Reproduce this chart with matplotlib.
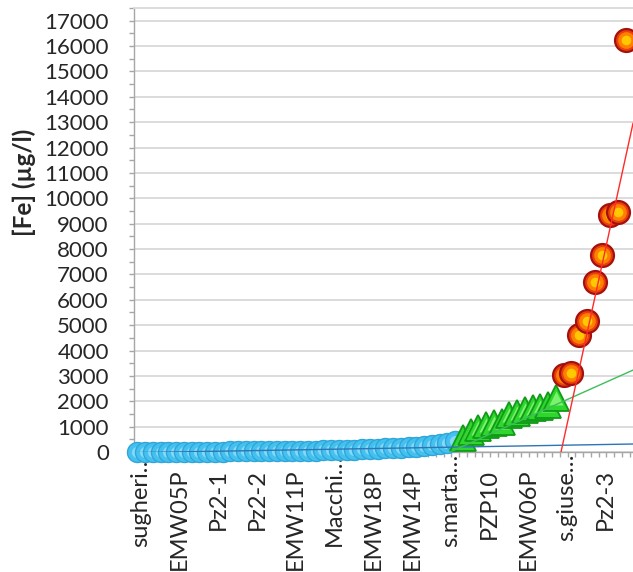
import matplotlib
matplotlib.use("Agg")
import matplotlib.pyplot as plt
import numpy as np
from matplotlib.ticker import MultipleLocator, FixedLocator

plt.rcParams['font.family'] = ['Lato', 'DejaVu Sans']

# Category-axis labels (one every fifth well)
label_pos = [0, 5, 10, 15, 20, 25, 30, 35, 40, 45, 50, 55, 60]
label_text = ["sugheri…", "EMW05P", "Pz2-1", "Pz2-2", "EMW11P", "Macchi…",
              "EMW18P", "EMW14P", "s.marta…", "PZP10", "EMW06P", "s.giuse…", "Pz2-3"]

# Fe concentrations (µg/l), sorted ascending, split into three groups
fe_low = [2, 4, 5, 6, 8, 9, 10, 12, 13, 15,
          16, 18, 20, 22, 24, 26, 29, 32, 35, 38,
          42, 47, 52, 58, 64, 71, 79, 88, 98, 110,
          122, 135, 148, 162, 177, 193, 212, 235, 262, 300,
          360, 450]
fe_mid = [550, 790, 940, 1060, 1140, 1180, 1460, 1540, 1650, 1730, 1770, 1850, 2120]
fe_high = [3050, 3100, 4600, 5150, 6700, 7750, 9350, 9450, 16250]

# Linear trend lines (value = slope * category + intercept)
trend_slope = [5.31, 136.7, 1394.0]
trend_intercept = [-24.6, -5514.0, -76196.0]

n_low, n_mid, n_high = len(fe_low), len(fe_mid), len(fe_high)
x_low = np.arange(n_low)
x_mid = np.arange(n_low, n_low + n_mid)
x_high = np.arange(n_low + n_mid, n_low + n_mid + n_high)
n_cat = n_low + n_mid + n_high

W, H = 633, 572
fig = plt.figure(figsize=(W / 100, H / 100), dpi=100)
ax = fig.add_axes([133.5 / W, (H - 452) / H, (W - 133.5) / W, 444 / H])

ax.set_xlim(-0.5, 63.95)
ax.set_ylim(0, 17500)

grid_c = '#D9D9D9'
axis_c = '#A6A6A6'
text_c = '#262626'

# horizontal gridlines
ax.yaxis.set_major_locator(MultipleLocator(1000))
ax.yaxis.set_minor_locator(MultipleLocator(500))
ax.set_yticks(np.arange(0, 17001, 1000))
ax.grid(axis='y', which='major', color=grid_c, linewidth=1.3, zorder=0)
ax.set_axisbelow(True)

ax.spines['right'].set_visible(False)
ax.spines['top'].set_color(grid_c)
ax.spines['top'].set_linewidth(1.3)
ax.spines['left'].set_color(axis_c)
ax.spines['bottom'].set_color(axis_c)
ax.spines['left'].set_linewidth(1.0)
ax.spines['bottom'].set_linewidth(1.0)

ax.tick_params(axis='y', which='major', direction='out', length=3.8, width=1.0,
               color=axis_c, labelsize=16, labelcolor=text_c, pad=14)
ax.tick_params(axis='y', which='minor', direction='out', length=3.8, width=1.0,
               color=axis_c)
ax.set_yticklabels([str(v) for v in range(0, 17001, 1000)])

# category boundaries as x ticks; labels drawn separately
ax.xaxis.set_major_locator(FixedLocator(np.arange(n_cat + 1) - 0.5))
ax.xaxis.set_minor_locator(FixedLocator([]))
ax.tick_params(axis='x', which='major', direction='out', length=3.8, width=1.0,
               color=axis_c, labelbottom=False)

for pos, txt in zip(label_pos, label_text):
    drop = 1 if txt.endswith('…') else 12
    ax.annotate(txt, xy=(pos, 0), xycoords=('data', 'axes fraction'),
                xytext=(2.5, -drop), textcoords='offset points',
                rotation=90, ha='center', va='top', fontsize=17, color=text_c,
                annotation_clip=False)

fig.text(24 / W, 1 - 182 / H, '[Fe] (µg/l)', rotation=90, ha='center', va='center',
         fontsize=17.5, fontweight='bold', color=text_c)

# markers, layered per point for a shaded look
for x, y in zip(x_low, fe_low):
    ax.plot([x], [y], 'o', ms=14.4, mfc='#45C1F0', mec='#2FA6DA', mew=1.0,
            clip_on=False, zorder=3)
    ax.plot([x], [y], 'o', ms=8, mfc='#86D9F7', mec='none', clip_on=False, zorder=3)

for x, y in zip(x_mid, fe_mid):
    ax.plot([x], [y], '^', ms=19, mfc='#2ED62E', mec='#109A18', mew=1.3,
            clip_on=False, zorder=4)
    ax.plot([x], [y], '^', ms=10, mfc='#7CF26E', mec='none', clip_on=False, zorder=4)

for x, y in zip(x_high, fe_high):
    ax.plot([x], [y], 'o', ms=16.5, mfc='#E8400C', mec='#A50F0F', mew=1.6,
            clip_on=False, zorder=5)
    ax.plot([x], [y], 'o', ms=12, mfc='#FF8000', mec='none', clip_on=False, zorder=5)
    ax.plot([x], [y], 'o', ms=7, mfc='#FFC800', mec='none', clip_on=False, zorder=5)

# trend lines across the whole category range
xt = np.array([-0.5, 63.95])
trend_colors = ['#2E75B6', '#3DBE5A', '#FF2A2A']
for a, b, c in zip(trend_slope, trend_intercept, trend_colors):
    ax.plot(xt, a * xt + b, color=c, linewidth=1.0, zorder=6)

fig.savefig('out.png', dpi=100)
